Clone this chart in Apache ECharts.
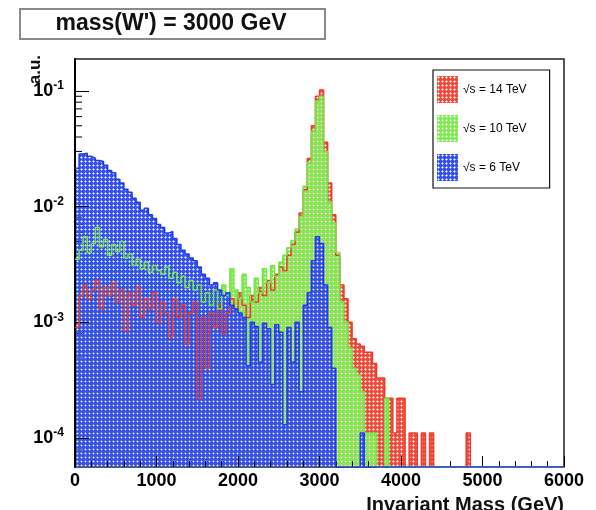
<!DOCTYPE html>
<html>
<head>
<meta charset="utf-8">
<script src="https://cdn.jsdelivr.net/npm/echarts@6/dist/echarts.min.js"></script>
<style>
  html, body { margin: 0; padding: 0; background: #fff; }
  #chart { width: 596px; height: 510px; }
</style>
</head>
<body>
<div id="chart"></div>
<script>
// ---- data (50 GeV bins from 0 to 6000 GeV) ----
const binWidth = 50;
const seriesNames = ['\u221As = 14 TeV', '\u221As = 10 TeV', '\u221As = 6 TeV'];
const red14 = [
  0.0009, 0.0017, 0.0021, 0.0016, 0.0019, 0.0023, 0.0013, 0.0020, 0.0017, 0.0022,
  0.0015, 0.0019, 0.00085, 0.0018, 0.0014, 0.0020, 0.0011, 0.0016, 0.0013, 0.0018,
  0.0010, 0.0015, 0.0012, 0.00075, 0.0016, 0.0011, 0.0014, 0.00065, 0.0012, 0.0015,
  0.00022, 0.0011, 0.00040, 0.0012, 0.0009, 0.0014, 0.0008, 0.0012, 0.0016, 0.0013,
  0.0018, 0.0014, 0.0011, 0.0017, 0.0015, 0.0020, 0.0017, 0.0023, 0.0019, 0.0026,
  0.0030, 0.0028, 0.0038, 0.0047, 0.0060, 0.0088, 0.0140, 0.0260, 0.0500, 0.0900,
  0.1020, 0.0360, 0.0160, 0.0085, 0.0038, 0.0021, 0.0016, 0.0010, 0.00072, 0.00065,
  0.00062, 0.00055, 0.00055, 0.00044, 0.00033, 0.00033, 0.00022, 0.00022, 0.00011, 0.00022,
  0.00022, 0, 0.00011, 0.00011, 0, 0.00011, 0, 0.00011, 0, 0,
  0, 0, 0, 0, 0, 0, 0.00011, 0, 0, 0,
  0, 0, 0, 0, 0, 0, 0, 0, 0, 0,
  0, 0, 0, 0, 0, 0, 0, 0, 0, 0
];
const green10 = [
  0.0035, 0.0042, 0.0055, 0.0040, 0.0048, 0.0066, 0.0045, 0.0052, 0.0038, 0.0047,
  0.0041, 0.0050, 0.0036, 0.0039, 0.0031, 0.0035, 0.0029, 0.0033, 0.0027, 0.0031,
  0.0028, 0.0026, 0.0030, 0.0024, 0.0027, 0.0022, 0.0025, 0.0020, 0.0023, 0.0019,
  0.0021, 0.0015, 0.0018, 0.0014, 0.0019, 0.0013, 0.0021, 0.0017, 0.0029, 0.0019,
  0.0016, 0.0026, 0.0020, 0.0015, 0.0024, 0.0018, 0.0029, 0.0022, 0.0031, 0.0025,
  0.0033, 0.0038, 0.0044, 0.0051, 0.0064, 0.0082, 0.0150, 0.0240, 0.0450, 0.0820,
  0.0900, 0.0300, 0.0110, 0.0072, 0.0040, 0.0015, 0.0010, 0.00060, 0.00040, 0.00035,
  0.00025, 0.00011, 0.00011, 0.00011, 0, 0, 0.00022, 0, 0, 0,
  0, 0, 0, 0, 0, 0, 0, 0, 0, 0,
  0, 0, 0, 0, 0, 0, 0, 0, 0, 0,
  0, 0, 0, 0, 0, 0, 0, 0, 0, 0,
  0, 0, 0, 0, 0, 0, 0, 0, 0, 0
];
const blue6 = [
  0.0215, 0.0285, 0.0290, 0.0272, 0.0262, 0.0250, 0.0246, 0.0228, 0.0205, 0.0196,
  0.0172, 0.0160, 0.0141, 0.0133, 0.0118, 0.0109, 0.0093, 0.0097, 0.0085, 0.0079,
  0.0070, 0.0066, 0.0059, 0.0061, 0.0053, 0.0047, 0.0042, 0.0039, 0.0036, 0.0034,
  0.0030, 0.0026, 0.0024, 0.0021, 0.0022, 0.0019, 0.0017, 0.0018, 0.0014, 0.0013,
  0.0012, 0.0011, 0.00042, 0.0010, 0.00092, 0.00045, 0.00098, 0.00088, 0.00029, 0.00095,
  0.00082, 0.00013, 0.00090, 0.00045, 0.0010, 0.00025, 0.0014, 0.0018, 0.0034, 0.0055,
  0.0048, 0.0021, 0.0009, 0.0004, 0, 0, 0, 0, 0, 0,
  0.00011, 0, 0, 0, 0, 0, 0, 0, 0, 0,
  0, 0, 0, 0, 0, 0, 0, 0, 0, 0,
  0, 0, 0, 0, 0, 0, 0, 0, 0, 0,
  0, 0, 0, 0, 0, 0, 0, 0, 0, 0,
  0, 0, 0, 0, 0, 0, 0, 0, 0, 0
];
const xTickValues = [0, 1000, 2000, 3000, 4000, 5000, 6000];
const yDecadeExponents = [-4, -3, -2, -1];
const titleText = "mass(W') = 3000 GeV";
const xTitle = 'Invariant Mass (GeV)';
const yTitle = 'a.u.';

// ---- presentation ----
const Y_MIN = 5.6e-5, Y_MAX = 0.189;
const FONT = '"Liberation Sans", Arial, Helvetica, sans-serif';
const colors = ['#ee3a2a', '#74e444', '#1e3cf0'];
const fillColors = ['#f04a3a', '#80ea52', '#3450f2'];

// dotted ROOT-like fill: colour with soft transparent dots
function hatch(color) {
  const c = document.createElement('canvas');
  c.width = 4; c.height = 4;
  const ctx = c.getContext('2d');
  ctx.fillStyle = color;
  ctx.fillRect(0, 0, 4, 4);
  ctx.clearRect(1, 1, 1, 1);
  const soft = [[0, 1], [2, 1], [1, 0], [1, 2]];
  soft.forEach(p => {
    ctx.clearRect(p[0], p[1], 1, 1);
    ctx.globalAlpha = 0.45;
    ctx.fillRect(p[0], p[1], 1, 1);
    ctx.globalAlpha = 1;
  });
  return { image: c, repeat: 'repeat' };
}

function hist(name, vals, color, fill) {
  const toPlot = v => (v > 0 ? v : Y_MIN);
  const data = vals.map((v, i) => [i * binWidth, toPlot(v)]);
  data.push([vals.length * binWidth, toPlot(vals[vals.length - 1])]);
  return {
    type: 'line', name: name, step: 'end', data: data,
    symbol: 'none', showSymbol: false, animation: false, clip: true,
    lineStyle: { color: color, width: 1.5 },
    itemStyle: { color: color },
    areaStyle: { color: hatch(fill), opacity: 1, origin: 'start' },
    emphasis: { disabled: true }
  };
}

// minor log ticks 2..9 x 10^k
const minorTicks = [];
for (let k = -5; k <= -1; k++) {
  for (let m = 2; m <= 9; m++) {
    const v = m * Math.pow(10, k);
    if (v > Y_MIN && v < Y_MAX) minorTicks.push([0, v]);
  }
}

const chart = echarts.init(document.getElementById('chart'), null, { renderer: 'canvas' });
chart.setOption({
  animation: false,
  textStyle: { fontFamily: FONT },
  grid: {
    left: 75, right: 32, top: 59, bottom: 43,
    show: true, borderColor: '#222', borderWidth: 1.5, backgroundColor: 'transparent'
  },
  xAxis: {
    type: 'value', min: 0, max: 6000, interval: 1000, z: 3,
    axisLine: { show: false },
    axisTick: { show: true, inside: true, length: 11, lineStyle: { color: '#000', width: 1 } },
    minorTick: { show: true, splitNumber: 5, length: 6, lineStyle: { color: '#000', width: 1 } },
    splitLine: { show: false },
    axisLabel: {
      margin: 5, fontSize: 18, fontWeight: 'bold', color: '#000', fontFamily: FONT,
      formatter: v => (xTickValues.indexOf(v) >= 0 ? String(v) : '')
    }
  },
  yAxis: {
    type: 'log', min: Y_MIN, max: Y_MAX, logBase: 10, z: 3,
    axisLine: { show: true, lineStyle: { color: '#000', width: 2 } },
    axisTick: { show: true, inside: true, length: 14, lineStyle: { color: '#000', width: 1 } },
    splitLine: { show: false },
    axisLabel: {
      margin: 11, color: '#000', showMinLabel: false, showMaxLabel: false,
      formatter: v => {
        const e = Math.log10(v), r = Math.round(e);
        if (Math.abs(e - r) > 1e-6 || yDecadeExponents.indexOf(r) < 0) return '';
        return '{b|10}{s|' + r + '}';
      },
      rich: {
        b: { fontSize: 18, fontWeight: 'bold', fontFamily: FONT, color: '#000', lineHeight: 22, verticalAlign: 'middle' },
        s: { fontSize: 12, fontWeight: 'bold', fontFamily: FONT, color: '#000', lineHeight: 22, verticalAlign: 'top' }
      }
    }
  },
  legend: {
    orient: 'vertical', left: 433, top: 70,
    padding: [6, 23, 7, 4], itemWidth: 21, itemHeight: 27, itemGap: 12,
    backgroundColor: '#fff', borderColor: '#111', borderWidth: 1.2,
    selectedMode: false, icon: 'rect',
    textStyle: { fontSize: 12, fontFamily: FONT, color: '#000' },
    data: seriesNames.map((n, i) => ({ name: n, itemStyle: { color: hatch(fillColors[i]), borderWidth: 0 } }))
  },
  graphic: [
    { type: 'rect', shape: { x: 20, y: 9, width: 305, height: 30 },
      style: { fill: '#fff', stroke: '#8a8a8a', lineWidth: 2 } },
    { type: 'text', x: 171, y: 24,
      style: { text: titleText, font: 'bold 23px ' + FONT, fill: '#111', align: 'center', verticalAlign: 'middle' } },
    { type: 'text', x: 564, y: 495,
      style: { text: xTitle, font: 'bold 20px ' + FONT, fill: '#111', align: 'right', verticalAlign: 'top' } },
    { type: 'text', x: 35, y: 55, rotation: Math.PI / 2,
      style: { text: yTitle, font: 'bold 17px ' + FONT, fill: '#111', align: 'right', verticalAlign: 'middle' } }
  ],
  series: [
    hist(seriesNames[0], red14, colors[0], fillColors[0]),
    hist(seriesNames[1], green10, colors[1], fillColors[1]),
    hist(seriesNames[2], blue6, colors[2], fillColors[2]),
    {
      type: 'custom', silent: true, animation: false, clip: false,
      data: minorTicks,
      renderItem: (params, api) => {
        const p = api.coord([api.value(0), api.value(1)]);
        return { type: 'line', shape: { x1: p[0], y1: p[1], x2: p[0] + 7, y2: p[1] },
                 style: { stroke: '#000', lineWidth: 1 } };
      }
    }
  ]
});
</script>
</body>
</html>
